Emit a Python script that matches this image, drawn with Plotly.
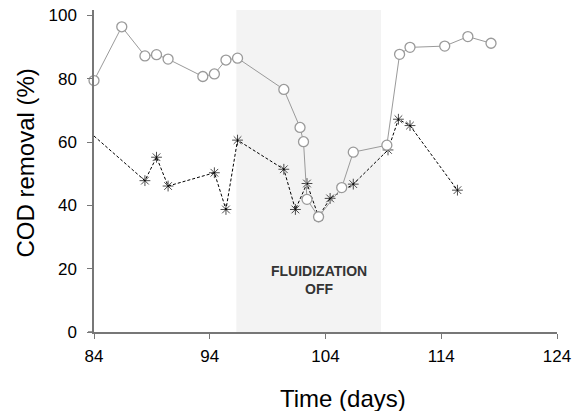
import plotly.graph_objects as go

# Circle series (open gray circles, solid line)
circ_days = [84, 86.4, 88.4, 89.4, 90.4, 93.4, 94.4, 95.4, 96.4, 100.4, 101.8, 102.1, 102.4,
             103.4, 105.4, 106.4, 109.3, 110.4, 111.3, 114.3, 116.3, 118.3]
circ_vals = [79.4, 96.4, 87.2, 87.6, 86.2, 80.7, 81.5, 85.9, 86.5, 76.6, 64.6, 60.1, 41.9,
             36.4, 45.6, 56.8, 59.0, 87.7, 89.9, 90.3, 93.3, 91.2]

# Star series (black asterisks, dashed line)
star_days = [84, 88.4, 89.4, 90.4, 94.4, 95.4, 96.4, 100.4, 101.4, 102.4, 103.4, 104.4,
             106.4, 109.4, 110.3, 111.3, 115.4]
star_vals = [61.9, 47.8, 55.2, 46.1, 50.3, 38.7, 60.6, 51.4, 38.7, 46.9, 36.4, 42.2,
             46.7, 57.5, 67.2, 65.2, 44.8]

x_ticks = [84, 94, 104, 114, 124]
y_ticks = [0, 20, 40, 60, 80, 100]
off_start, off_end = 96.3, 108.8

FONT = "Liberation Sans, Arial"
L, R, T, B = 93.5, 556.7, 10, 332  # plot area in pixels
W, H = 573, 411

fig = go.Figure()
fig.add_shape(type="rect", x0=off_start, x1=off_end, y0=0, y1=101.7,
              xref="x", yref="y", fillcolor="#f3f3f3", line_width=0, layer="below")

star_sizes = [0] + [9] * (len(star_days) - 1)
fig.add_trace(go.Scatter(x=star_days, y=star_vals, mode="lines+markers",
                         line=dict(color="black", width=1, dash="3px,2px"),
                         marker=dict(symbol="asterisk-open", size=star_sizes,
                                     line=dict(color="#111", width=1)),
                         showlegend=False, cliponaxis=False))
fig.add_trace(go.Scatter(x=circ_days, y=circ_vals, mode="lines+markers",
                         line=dict(color="#9a9a9a", width=1),
                         marker=dict(symbol="circle", size=10, color="white",
                                     line=dict(color="#9a9a9a", width=1.3)),
                         showlegend=False, cliponaxis=False))

fig.add_annotation(x=103.4, y=16.4, xref="x", yref="y",
                   text="<b>FLUIDIZATION<br>OFF</b>", showarrow=False,
                   font=dict(family=FONT, size=14, color="#333"))

fig.add_annotation(xref="paper", yref="paper", x=(343 - L) / (R - L),
                   y=-(398 - B) / (B - T), xanchor="center", yanchor="middle",
                   text="Time (days)", showarrow=False,
                   font=dict(family=FONT, size=24, color="black"))
fig.add_annotation(xref="paper", yref="paper", x=-(L - 25) / (R - L),
                   y=(B - 163) / (B - T), xanchor="center", yanchor="middle",
                   text="COD removal (%)", textangle=-90,
                   showarrow=False, font=dict(family=FONT, size=24, color="black"))

fig.update_xaxes(range=[84, 124], tickvals=x_ticks, ticktext=[str(t) for t in x_ticks],
                 showline=True, linecolor="#777", linewidth=1.5, ticks="outside",
                 ticklen=5, tickcolor="#777", showgrid=False, zeroline=False,
                 ticklabelstandoff=3,
                 tickfont=dict(family=FONT, size=17, color="black"))
fig.update_yaxes(range=[0, 101.7], tickvals=y_ticks, ticks="outside", ticklen=5,
                 tickcolor="#777", showline=True, linecolor="#777", linewidth=1.5,
                 showgrid=False, zeroline=False, ticklabelstandoff=7,
                 tickfont=dict(family=FONT, size=17, color="black"))
fig.add_shape(type="line", xref="paper", yref="paper", x0=-0.013, x1=0, y0=0, y1=0,
              line=dict(color="#777", width=1.5))

fig.update_layout(width=W, height=H,
                  margin=dict(l=L, r=W - R, t=T, b=H - B, autoexpand=False),
                  plot_bgcolor="white", paper_bgcolor="white",
                  font=dict(family=FONT))
fig.write_html("out.html", config={"displayModeBar": False},
               post_script="document.body.style.margin='0';")
